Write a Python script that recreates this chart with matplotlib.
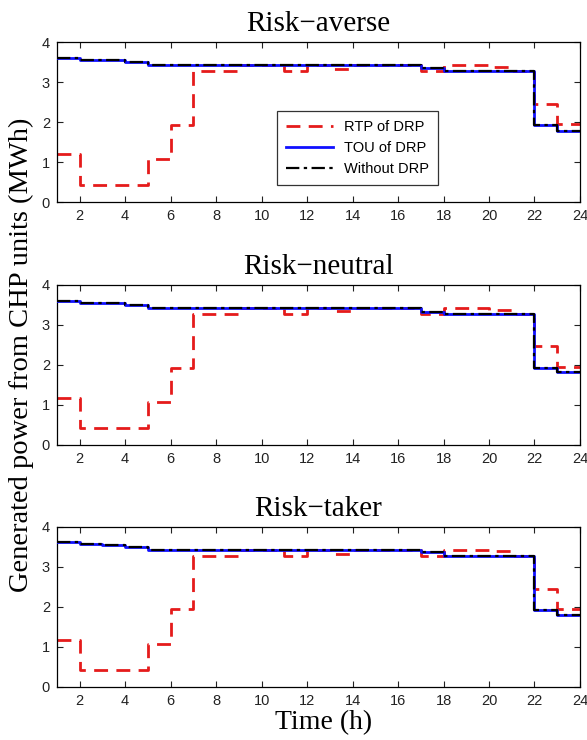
import numpy as np
import matplotlib
matplotlib.use("Agg")
import matplotlib.pyplot as plt

# hours 1..24, stairs drawn 'post' like MATLAB stairs()
hours = np.arange(1, 25)

titles = ["Risk\u2212averse", "Risk\u2212neutral", "Risk\u2212taker"]

# RTP of DRP
rtp = [
    [1.2, 0.43, 0.43, 0.43, 1.08, 1.92, 3.27, 3.27, 3.43, 3.43, 3.27, 3.43,
     3.33, 3.43, 3.43, 3.43, 3.27, 3.43, 3.43, 3.38, 3.27, 2.45, 1.95, 1.95],
    [1.17, 0.41, 0.41, 0.41, 1.08, 1.93, 3.27, 3.27, 3.41, 3.41, 3.27, 3.41,
     3.35, 3.41, 3.41, 3.41, 3.27, 3.41, 3.41, 3.38, 3.27, 2.47, 1.95, 1.95],
    [1.18, 0.43, 0.43, 0.43, 1.08, 1.95, 3.27, 3.27, 3.43, 3.43, 3.27, 3.43,
     3.33, 3.43, 3.43, 3.43, 3.27, 3.43, 3.43, 3.40, 3.27, 2.45, 1.95, 1.95],
]

# TOU of DRP (identical to the case without DRP)
tou = [
    [3.6, 3.55, 3.55, 3.5, 3.43, 3.43, 3.43, 3.43, 3.43, 3.43, 3.43, 3.43,
     3.43, 3.43, 3.43, 3.43, 3.35, 3.27, 3.27, 3.27, 3.27, 1.92, 1.78, 1.78],
    [3.6, 3.55, 3.55, 3.5, 3.41, 3.41, 3.41, 3.41, 3.41, 3.41, 3.41, 3.41,
     3.41, 3.41, 3.41, 3.41, 3.33, 3.27, 3.27, 3.27, 3.27, 1.93, 1.82, 1.82],
    [3.62, 3.58, 3.55, 3.5, 3.43, 3.43, 3.43, 3.43, 3.43, 3.43, 3.43, 3.43,
     3.43, 3.43, 3.43, 3.43, 3.36, 3.27, 3.27, 3.27, 3.27, 1.93, 1.8, 1.8],
]
without = tou

xticks = list(range(2, 25, 2))
yticks = [0, 1, 2, 3, 4]

fig = plt.figure(figsize=(5.87, 7.40), dpi=100)
rects = [
    [0.097, 0.727, 0.891, 0.216],
    [0.097, 0.399, 0.891, 0.216],
    [0.097, 0.072, 0.891, 0.216],
]

for i, r in enumerate(rects):
    ax = fig.add_axes(r)
    ax.step(hours, rtp[i], where="post", color="#e51b1b", lw=2.0,
            dashes=(5, 3), label="RTP of DRP", zorder=2)
    ax.step(hours, tou[i], where="post", color="#1010ff", lw=2.0,
            label="TOU of DRP", zorder=3)
    ax.step(hours, without[i], where="post", color="black", lw=1.6,
            dashes=(6, 2, 1.5, 2), label="Without DRP", zorder=4)
    ax.set_xlim(1, 24)
    ax.set_ylim(0, 4)
    ax.set_xticks(xticks)
    ax.set_yticks(yticks)
    ax.tick_params(direction="in", top=True, right=True, length=4,
                   labelsize=10.5, colors="#222222", pad=5)
    for lab in ax.get_xticklabels() + ax.get_yticklabels():
        lab.set_family("Liberation Sans")
    for s in ax.spines.values():
        s.set_linewidth(0.9)
    ax.set_title(titles[i], family="Liberation Serif", fontsize=21, pad=8)
    if i == 0:
        leg = ax.legend(loc="upper left", bbox_to_anchor=(0.421, 0.57),
                        prop={"family": "Liberation Sans", "size": 10.5},
                        frameon=True, fancybox=False, edgecolor="black",
                        handlelength=3.2, borderpad=0.6, labelspacing=0.5,
                        borderaxespad=0)
        leg.get_frame().set_linewidth(0.9)

fig.text(0.552, 0.023, "Time (h)", family="Liberation Serif", fontsize=20,
         ha="center", va="center")
fig.text(0.036, 0.52, "Generated power from CHP units (MWh)",
         family="Liberation Serif", fontsize=20.5, rotation=90,
         ha="center", va="center")

fig.savefig("out.png", dpi=100)
